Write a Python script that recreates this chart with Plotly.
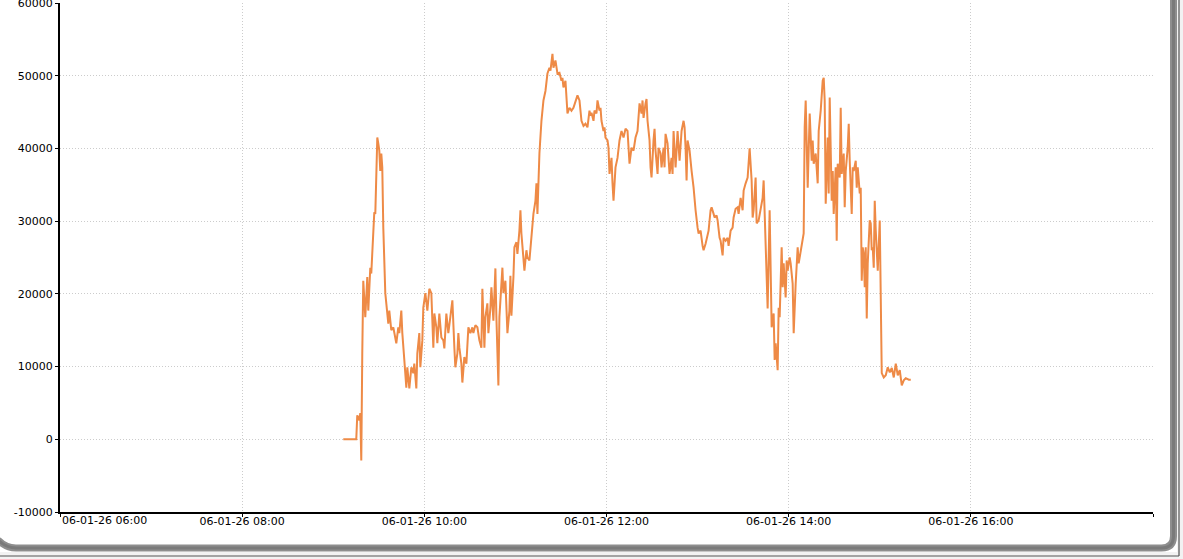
import plotly.graph_objects as go

# ---------------- data ----------------
DATE = "2026-01-06"

times = [
    "09:06:36", "09:11:13", "09:15:10", "09:15:49", "09:17:09", "09:17:48", "09:18:28", "09:19:07", "09:19:47", "09:21:06",
    "09:22:25", "09:23:05", "09:24:24", "09:25:03", "09:26:22", "09:27:02", "09:27:42", "09:29:01", "09:29:40", "09:30:20",
    "09:30:59", "09:31:39", "09:32:18", "09:32:58", "09:34:17", "09:35:36", "09:36:16", "09:36:55", "09:38:14", "09:39:34",
    "09:40:13", "09:41:32", "09:42:51", "09:43:31", "09:44:50", "09:45:30", "09:46:49", "09:48:08", "09:48:47", "09:50:07",
    "09:51:26", "09:52:45", "09:53:24", "09:54:44", "09:55:23", "09:56:42", "09:57:22", "09:58:41", "09:59:20", "10:00:40",
    "10:01:59", "10:03:18", "10:04:37", "10:05:56", "10:06:36", "10:07:55", "10:08:34", "10:09:53", "10:11:13", "10:12:32",
    "10:13:11", "10:14:30", "10:15:49", "10:17:09", "10:18:28", "10:19:47", "10:20:26", "10:21:46", "10:22:25", "10:23:05",
    "10:24:24", "10:25:03", "10:26:22", "10:27:42", "10:29:01", "10:30:20", "10:31:39", "10:32:18", "10:33:38", "10:34:57",
    "10:36:16", "10:37:35", "10:38:14", "10:39:34", "10:40:13", "10:41:32", "10:42:12", "10:43:31", "10:44:11", "10:45:30",
    "10:46:49", "10:47:28", "10:48:47", "10:49:27", "10:50:46", "10:51:26", "10:52:05", "10:53:24", "10:54:44", "10:56:03",
    "10:56:42", "10:57:22", "10:58:41", "10:59:20", "11:00:40", "11:01:19", "11:02:38", "11:03:18", "11:03:57", "11:05:16",
    "11:05:56", "11:07:15", "11:07:55", "11:09:14", "11:11:13", "11:11:52", "11:13:11", "11:13:51", "11:14:30", "11:15:49",
    "11:17:09", "11:18:28", "11:19:47", "11:21:06", "11:22:25", "11:23:05", "11:24:24", "11:25:03", "11:26:22", "11:27:02",
    "11:27:42", "11:29:01", "11:30:20", "11:30:59", "11:31:39", "11:32:58", "11:33:38", "11:34:17", "11:35:36", "11:36:55",
    "11:38:14", "11:39:34", "11:40:53", "11:42:12", "11:43:31", "11:44:50", "11:46:09", "11:47:28", "11:48:47", "11:49:27",
    "11:50:07", "11:51:26", "11:52:05", "11:53:24", "11:54:04", "11:55:23", "11:56:03", "11:56:42", "11:58:01", "11:58:41",
    "11:59:20", "12:00:40", "12:01:19", "12:01:59", "12:03:18", "12:03:57", "12:04:37", "12:05:56", "12:07:15", "12:08:34",
    "12:09:53", "12:11:13", "12:12:32", "12:13:51", "12:14:30", "12:15:10", "12:16:29", "12:17:48", "12:19:07", "12:20:26",
    "12:21:46", "12:23:05", "12:23:44", "12:24:24", "12:25:43", "12:26:22", "12:27:02", "12:28:21", "12:29:01", "12:29:40",
    "12:30:59", "12:31:39", "12:32:18", "12:33:38", "12:34:17", "12:35:36", "12:36:16", "12:37:35", "12:38:14", "12:38:54",
    "12:40:13", "12:40:53", "12:41:32", "12:42:51", "12:43:31", "12:44:11", "12:45:30", "12:46:09", "12:46:49", "12:48:08",
    "12:48:47", "12:49:27", "12:50:46", "12:51:26", "12:52:05", "12:52:45", "12:53:24", "12:54:44", "12:56:03", "12:56:42",
    "12:57:22", "12:58:41", "12:59:20", "13:00:00", "13:00:40", "13:01:59", "13:03:18", "13:03:57", "13:05:16", "13:06:36",
    "13:07:15", "13:08:34", "13:09:14", "13:10:33", "13:11:13", "13:12:32", "13:13:11", "13:14:30", "13:15:10", "13:16:29",
    "13:17:09", "13:18:28", "13:19:47", "13:20:26", "13:21:46", "13:23:05", "13:23:44", "13:25:03", "13:26:22", "13:27:02",
    "13:28:21", "13:29:40", "13:30:20", "13:31:39", "13:32:58", "13:34:17", "13:35:36", "13:36:16", "13:36:55", "13:38:14",
    "13:38:54", "13:40:13", "13:41:32", "13:42:51", "13:43:31", "13:44:50", "13:46:09", "13:47:28", "13:48:08", "13:48:47",
    "13:50:07", "13:50:46", "13:51:26", "13:52:45", "13:53:24", "13:54:04", "13:55:23", "13:56:03", "13:56:42", "13:58:01",
    "13:58:41", "13:59:20", "14:00:40", "14:01:19", "14:02:38", "14:03:18", "14:04:37", "14:05:56", "14:06:36", "14:07:55",
    "14:08:34", "14:09:53", "14:10:33", "14:11:13", "14:12:32", "14:13:11", "14:13:51", "14:15:10", "14:15:49", "14:16:29",
    "14:17:48", "14:19:07", "14:19:47", "14:21:06", "14:22:25", "14:23:05", "14:23:44", "14:24:24", "14:25:43", "14:26:22",
    "14:27:02", "14:28:21", "14:29:01", "14:29:40", "14:30:59", "14:31:39", "14:32:18", "14:33:38", "14:34:17", "14:34:57",
    "14:36:16", "14:36:55", "14:37:35", "14:38:54", "14:39:34", "14:40:13", "14:41:32", "14:42:12", "14:42:51", "14:44:11",
    "14:44:50", "14:45:30", "14:46:49", "14:47:28", "14:48:08", "14:48:47", "14:49:27", "14:50:07", "14:50:46", "14:51:26",
    "14:52:05", "14:53:24", "14:54:04", "14:54:44", "14:55:23", "14:56:03", "14:56:42", "14:57:22", "14:58:41", "15:00:00",
    "15:00:40", "15:01:19", "15:02:38", "15:03:57", "15:05:16", "15:06:36", "15:07:55", "15:09:14", "15:10:33", "15:11:52",
    "15:13:11", "15:14:30", "15:15:49", "15:17:09", "15:19:07", "15:20:26",
]

values = [
    0, 0, 0, 3300, 2600, 3600, -2900, 11800, 21800, 16800,
    22300, 17700, 23600, 22800, 27300, 31200, 31000, 41500, 40700, 39700,
    36900, 39300, 37400, 29100, 20100, 17700, 15900, 17700, 15000, 15400,
    14600, 13200, 15400, 14600, 17700, 14600, 10900, 7100, 9900, 7000,
    9900, 9100, 10400, 7000, 11800, 14600, 9900, 13600, 18100, 20100,
    17700, 20700, 20100, 12600, 17300, 15400, 13200, 17300, 14000, 13600,
    12500, 17300, 14600, 16800, 19100, 12600, 9900, 11800, 14600, 12600,
    10400, 7800, 11300, 10400, 15400, 14600, 15400, 14600, 15700, 15400,
    13600, 12600, 20700, 12600, 16800, 18700, 14600, 18100, 20900, 16300,
    23500, 16800, 7400, 16800, 20900, 23600, 20100, 21800, 14600, 17700,
    22500, 17000, 22300, 26400, 27100, 25500, 28700, 31500, 28300, 24600,
    23200, 26000, 25000, 24600, 29700, 31000, 32800, 35200, 31000, 39300,
    43800, 46600, 47900, 50300, 51100, 50700, 53000, 51100, 52100, 51100,
    50300, 50400, 49300, 49700, 48400, 49300, 47500, 44800, 45600, 45200,
    45600, 46600, 47300, 46600, 43800, 43100, 43400, 42900, 45200, 44500,
    44900, 43800, 45200, 44800, 46600, 45200, 45600, 43800, 42400, 42900,
    41500, 41100, 40100, 36500, 38700, 35200, 32800, 37400, 38700, 41100,
    42400, 41500, 42700, 42400, 39300, 37900, 40100, 39700, 41500, 42400,
    46200, 44800, 46600, 44200, 46200, 46800, 43800, 41100, 37400, 36000,
    41100, 42700, 39700, 36500, 40100, 39300, 37400, 40100, 37400, 42000,
    40700, 37400, 36500, 38700, 36500, 42400, 37400, 39700, 42400, 38300,
    40100, 42400, 43800, 42900, 40100, 35600, 41100, 39700, 36900, 36000,
    34600, 31500, 29700, 29100, 28300, 28700, 26600, 26000, 26900, 28300,
    28700, 31500, 31900, 31000, 30500, 30800, 30100, 27700, 27300, 25300,
    27700, 27300, 27700, 26600, 28700, 29100, 30500, 31700, 31900, 31000,
    33200, 31500, 34200, 35200, 36000, 40000, 35600, 30500, 31500, 36000,
    29700, 30100, 31500, 33200, 35600, 25000, 18000, 31500, 19500, 15400,
    17300, 10900, 13200, 9500, 18100, 16800, 26400, 20900, 24200, 19500,
    24600, 23200, 25000, 24200, 21400, 14600, 21400, 26400, 24200, 26000,
    26600, 28300, 42900, 46600, 34600, 38700, 44800, 38300, 41100, 37900,
    39300, 35200, 42400, 45200, 49300, 49700, 46600, 32400, 41500, 33800,
    47000, 32800, 36900, 31000, 37400, 27300, 37900, 36000, 45600, 36500,
    39300, 31900, 36900, 40100, 43400, 38300, 31000, 37400, 36900, 38300,
    34600, 37400, 33800, 34600, 21800, 26400, 25500, 20900, 26400, 16600,
    24200, 30100, 29700, 26000, 26400, 23600, 32800, 28700, 23200, 30100,
    18100, 9100, 8500, 8800, 9900, 9200, 9800, 8500, 10400, 8800,
    9500, 7400, 8100, 8400, 8200, 8200,
]

x_tick_times = ["06:00", "08:00", "10:00", "12:00", "14:00", "16:00", "18:00"]
x_tick_labels = ["06-01-26 06:00", "06-01-26 08:00", "06-01-26 10:00",
                 "06-01-26 12:00", "06-01-26 14:00", "06-01-26 16:00", ""]
y_ticks = [-10000, 0, 10000, 20000, 30000, 40000, 50000, 60000]
y_range = [-10000, 60000]

# ---------------- figure ----------------
W, H = 1183, 559
ML, MR, MT, MB = 60, 30, 3, 47
PW, PH = W - ML - MR, H - MT - MB

FONT = dict(family="DejaVu Sans, Verdana, sans-serif", size=11, color="#000000")
LINE_COLOR = "#EE8A46"
GRID = "#cccccc"
GRID_DASH = "1px,2px"

x = [f"{DATE} {t}" for t in times]
x_tickvals = [f"{DATE} {t}" for t in x_tick_times]

fig = go.Figure()
fig.add_trace(go.Scatter(
    x=x, y=values, mode="lines",
    line=dict(color=LINE_COLOR, width=2),
    hoverinfo="skip", showlegend=False,
))


def px(xp):
    return (xp - ML) / PW


def py(yp):
    return (H - MB - yp) / PH


# the first label sits to the right of its tick (left aligned) in the reference
tick_text = [""] + x_tick_labels[1:]

fig.update_layout(
    width=W, height=H,
    margin=dict(l=ML, r=MR, t=MT, b=MB, pad=0),
    paper_bgcolor="white", plot_bgcolor="white",
    font=FONT, showlegend=False,
    xaxis=dict(
        type="date",
        range=[x_tickvals[0], x_tickvals[-1]],
        tickmode="array", tickvals=x_tickvals, ticktext=tick_text,
        showgrid=True, gridcolor=GRID, griddash=GRID_DASH, gridwidth=1,
        showline=True, linecolor="#000000", linewidth=2,
        ticks="outside", ticklen=3, tickcolor="#000000", tickwidth=1,
        tickfont=FONT, zeroline=False, fixedrange=True, tickangle=0,
        ticklabelstandoff=-5,
        automargin=False,
    ),
    yaxis=dict(
        range=y_range,
        tickmode="array", tickvals=y_ticks, ticktext=[str(v) for v in y_ticks],
        showgrid=True, gridcolor=GRID, griddash=GRID_DASH, gridwidth=1,
        showline=True, linecolor="#000000", linewidth=2,
        ticks="outside", ticklen=3, tickcolor="#000000", tickwidth=1,
        tickfont=FONT, zeroline=False, fixedrange=True,
        ticklabeloverflow="allow",
        automargin=False,
    ),
    annotations=[dict(
        x=x_tickvals[0], y=0, xref="x", yref="paper",
        text=x_tick_labels[0], showarrow=False,
        xanchor="left", yanchor="top", xshift=0, yshift=0,
        font=FONT,
    )],
)

# window frame (right and bottom edges with rounded corner)
shapes = []
shapes.append(dict(type="rect", xref="paper", yref="paper",
                   x0=px(1177), x1=px(1190), y0=py(-5), y1=py(570),
                   fillcolor="#f2f2f2", line=dict(width=0), layer="above"))
shapes.append(dict(type="rect", xref="paper", yref="paper",
                   x0=px(-5), x1=px(1190), y0=py(552), y1=py(570),
                   fillcolor="#f2f2f2", line=dict(width=0), layer="above"))
frame_path = (f"M {px(1173.5)},{py(-5)} L {px(1173.5)},{py(536)} "
              f"Q {px(1173.5)},{py(548)} {px(1161.5)},{py(548)} "
              f"L {px(16)},{py(548)} Q {px(6)},{py(548)} {px(-2)},{py(540)}")
shapes.append(dict(type="path", xref="paper", yref="paper", path=frame_path,
                   line=dict(color="#8e8e8e", width=7), layer="above"))
shapes.append(dict(type="path", xref="paper", yref="paper", path=frame_path,
                   line=dict(color="#7a7a7a", width=3), layer="above"))
shapes.append(dict(type="line", xref="paper", yref="paper",
                   x0=px(1179), x1=px(1179), y0=py(-5), y1=py(556),
                   line=dict(color="#333333", width=1), layer="above"))
shapes.append(dict(type="line", xref="paper", yref="paper",
                   x0=px(-5), x1=px(1179), y0=py(556), y1=py(556),
                   line=dict(color="#555555", width=1), layer="above"))
fig.update_layout(shapes=shapes)

fig.write_html(
    "out.html",
    config={"displayModeBar": False, "staticPlot": True},
    post_script="document.body.style.margin='0px';document.body.style.overflow='hidden';",
)
